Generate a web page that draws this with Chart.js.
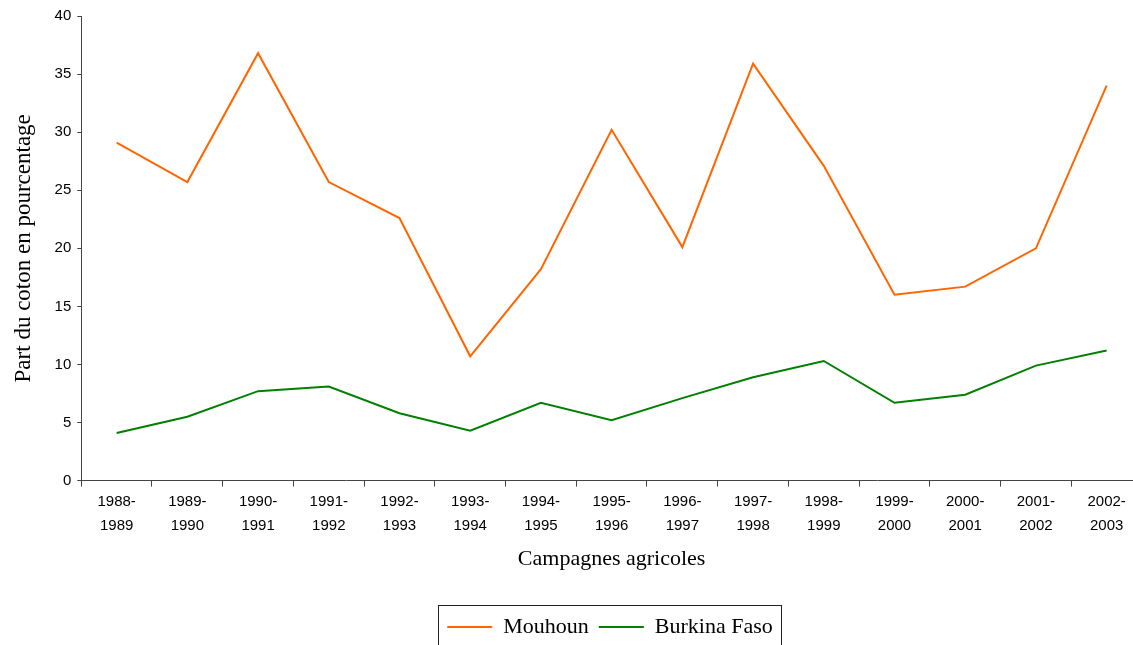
<!DOCTYPE html>
<html>
<head>
<meta charset="utf-8">
<script src="https://cdn.jsdelivr.net/npm/chart.js@4"></script>
<style>
  html, body { margin: 0; background: #fff; overflow: hidden; }
</style>
</head>
<body>
<canvas id="myChart" width="1142" height="648"></canvas>
<script>
const campagnes = [
  ["1988-", "1989"], ["1989-", "1990"], ["1990-", "1991"], ["1991-", "1992"],
  ["1992-", "1993"], ["1993-", "1994"], ["1994-", "1995"], ["1995-", "1996"],
  ["1996-", "1997"], ["1997-", "1998"], ["1998-", "1999"], ["1999-", "2000"],
  ["2000-", "2001"], ["2001-", "2002"], ["2002-", "2003"],
];
const mouhoun = [29.1, 25.7, 36.8, 25.7, 22.6, 10.7, 18.2, 30.2, 20.1, 35.9, 27.1, 16.0, 16.7, 20.0, 34.0];
const burkina = [4.1, 5.5, 7.7, 8.1, 5.8, 4.3, 6.7, 5.2, 7.1, 8.9, 10.3, 6.7, 7.4, 9.9, 11.2];

const serif = "'Liberation Serif', 'Times New Roman', serif";
const sans = "'Liberation Sans', Arial, sans-serif";

// décale la légende vers le centre du graphique + cadre autour
const legendBox = {
  id: "legendBox",
  afterLayout(chart) {
    const dx = 36;
    chart.legend.left += dx;
    chart.legend.right += dx;
  },
  afterDraw(chart) {
    const boxes = chart.legend.legendHitBoxes;
    if (!boxes || !boxes.length) return;
    const left = Math.min(...boxes.map((b) => b.left)) - 9;
    const right = Math.max(...boxes.map((b) => b.left + b.width)) + 8;
    const top = boxes[0].top - 11;
    const ctx = chart.ctx;
    ctx.save();
    ctx.strokeStyle = "#222";
    ctx.lineWidth = 1;
    ctx.strokeRect(Math.round(left) + 0.5, Math.round(top) + 0.5, Math.round(right - left), 60);
    ctx.restore();
  },
};

const ctx = document.getElementById("myChart");
const myChart = new Chart(ctx, {
  type: "line",
  data: {
    labels: campagnes,
    datasets: [
      {
        label: "Mouhoun",
        data: mouhoun,
        borderColor: "#FF6600",
        backgroundColor: "#FF6600",
        borderWidth: 2,
        pointRadius: 0,
        tension: 0,
      },
      {
        label: "Burkina Faso",
        data: burkina,
        borderColor: "#008000",
        backgroundColor: "#008000",
        borderWidth: 2,
        pointRadius: 0,
        tension: 0,
      },
    ],
  },
  options: {
    responsive: false,
    animation: false,
    layout: { padding: { top: 16, right: 0, left: 6, bottom: 0 } },
    plugins: {
      tooltip: { enabled: false },
      legend: {
        position: "bottom",
        labels: {
          color: "#000",
          font: { family: serif, size: 22 },
          boxWidth: 45,
          boxHeight: 0,
          padding: 10,
        },
      },
    },
    scales: {
      x: {
        offset: true,
        grid: { offset: true, drawOnChartArea: false, tickLength: 6, color: "#444" },
        border: { color: "#444" },
        ticks: {
          color: "#000",
          font: { family: sans, size: 15, lineHeight: 1.6 },
          maxRotation: 0,
          autoSkip: false,
          padding: 3,
        },
        title: {
          display: true,
          text: "Campagnes agricoles",
          color: "#000",
          font: { family: serif, size: 22 },
          padding: { top: 5, bottom: 34 },
        },
      },
      y: {
        min: 0,
        max: 40,
        grid: { drawOnChartArea: false, tickLength: 4, color: "#444" },
        border: { color: "#444" },
        ticks: {
          stepSize: 5,
          color: "#000",
          font: { family: sans, size: 15 },
          padding: 6,
        },
        title: {
          display: true,
          text: "Part du coton en pourcentage",
          color: "#000",
          font: { family: serif, size: 23 },
          padding: { top: 4, bottom: 11 },
        },
      },
    },
  },
  plugins: [legendBox],
});
</script>
</body>
</html>
